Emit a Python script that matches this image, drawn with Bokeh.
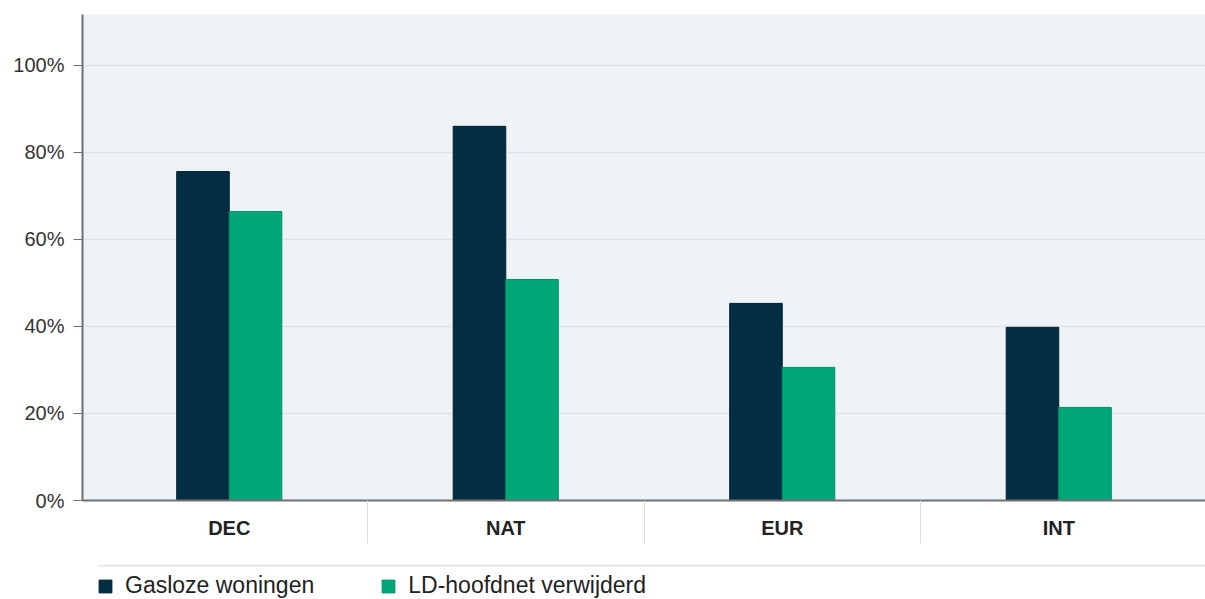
import numpy as np
from bokeh.plotting import figure
from bokeh.layouts import column
from bokeh.models import (Range1d, FixedTicker, PrintfTickFormatter, BoxAnnotation,
                          ColumnDataSource, Legend, LegendItem)
from bokeh.embed import file_html
from bokeh.resources import INLINE

categories = ["DEC", "NAT", "EUR", "INT"]
gasloze = [75.6, 86.0, 45.3, 39.8]
ld_hoofdnet = [66.4, 50.8, 30.6, 21.4]
series_names = ["Gasloze woningen", "LD-hoofdnet verwijderd"]
y_ticks = [0, 20, 40, 60, 80, 100]

DARK = "#022d42"
GREEN = "#00a878"
PAD = 0.0615
BW = 0.19
YMAX = 111.7

idx = np.arange(len(categories)) + 0.5
src = ColumnDataSource(dict(cat=categories, xg=idx - BW / 2, xl=idx + BW / 2,
                            g=gasloze, ld=ld_hoofdnet))

p = figure(x_range=Range1d(-PAD / 2, len(categories) + PAD / 2), y_range=Range1d(0, YMAX),
           width=1205, height=545, output_backend="svg", toolbar_location=None,
           min_border_left=82, min_border_right=0, min_border_top=14, min_border_bottom=45)

p.background_fill_color = "#eef3f7"
p.border_fill_color = "white"
p.outline_line_color = None

r1 = p.vbar(x="xg", top="g", width=BW, source=src,
            fill_color=DARK, line_color="#01202f", line_width=1)
r2 = p.vbar(x="xl", top="ld", width=BW, source=src,
            fill_color=GREEN, line_color="#00906a", line_width=1)

# y axis
ya = p.yaxis[0]
ya.ticker = FixedTicker(ticks=y_ticks)
ya.formatter = PrintfTickFormatter(format="%d%%")
ya.axis_line_color = "#6f6f6f"
ya.axis_line_width = 2
ya.major_tick_line_color = "#6f6f6f"
ya.major_tick_out = 9
ya.major_tick_in = 0
ya.minor_tick_line_color = None
ya.major_label_text_font = "Liberation Sans"
ya.major_label_text_font_size = "20px"
ya.major_label_text_color = "#333333"
ya.major_label_standoff = 9

p.xgrid.visible = False
p.ygrid.grid_line_color = "#dde3e8"
p.ygrid.grid_line_width = 1.5
p.ygrid.ticker = FixedTicker(ticks=y_ticks[1:])

# x axis with category separators
xa = p.xaxis[0]
xa.ticker = FixedTicker(ticks=list(idx), minor_ticks=list(range(1, len(categories))))
xa.major_label_overrides = {float(c): lab for c, lab in zip(idx, categories)}
xa.axis_line_color = "#707070"
xa.axis_line_width = 2
xa.major_tick_line_color = None
xa.major_tick_out = 0
xa.major_tick_in = 0
xa.minor_tick_line_color = "#dcdcdc"
xa.minor_tick_line_width = 1
xa.minor_tick_out = 43
xa.minor_tick_in = 0
xa.major_label_text_font = "Liberation Sans"
xa.major_label_text_font_style = "bold"
xa.major_label_text_font_size = "20px"
xa.major_label_text_color = "#222222"
xa.major_label_standoff = -27

# legend strip below the chart, with its thin separator line on top
LEG_H = 54
p2 = figure(x_range=Range1d(0, 1123), y_range=Range1d(0, LEG_H), width=1205, height=LEG_H,
            output_backend="svg", toolbar_location=None,
            x_axis_location=None, y_axis_location=None,
            min_border_left=82, min_border_right=0, min_border_top=0, min_border_bottom=0)
p2.grid.visible = False
p2.outline_line_color = None
p2.background_fill_color = "white"
p2.border_fill_color = "white"
p2.add_layout(BoxAnnotation(left=15, right=1123, top=LEG_H - 19.5, bottom=LEG_H - 21,
                            fill_color="#e2e5e8", fill_alpha=1, line_color=None))

# hidden proxies of the two series, only used for the legend swatches
l1 = p2.vbar(x="xg", top="g", width=BW, source=src, fill_color=DARK, line_color="#01202f",
             visible=False)
l2 = p2.vbar(x="xl", top="ld", width=BW, source=src, fill_color=GREEN, line_color="#00906a",
             visible=False)

legend = Legend(items=[LegendItem(label=series_names[0], renderers=[l1]),
                       LegendItem(label=series_names[1], renderers=[l2])],
                orientation="horizontal", location=(15, 0),
                glyph_width=16, glyph_height=16, label_standoff=12, spacing=66,
                padding=0, margin=0, border_line_color=None, background_fill_alpha=0,
                inactive_fill_alpha=0,
                label_text_font="Liberation Sans", label_text_font_size="23px",
                label_text_color="#222222")
p2.add_layout(legend)

layout = column(p, p2, spacing=0)
open("out.html", "w").write(file_html(layout, INLINE))
